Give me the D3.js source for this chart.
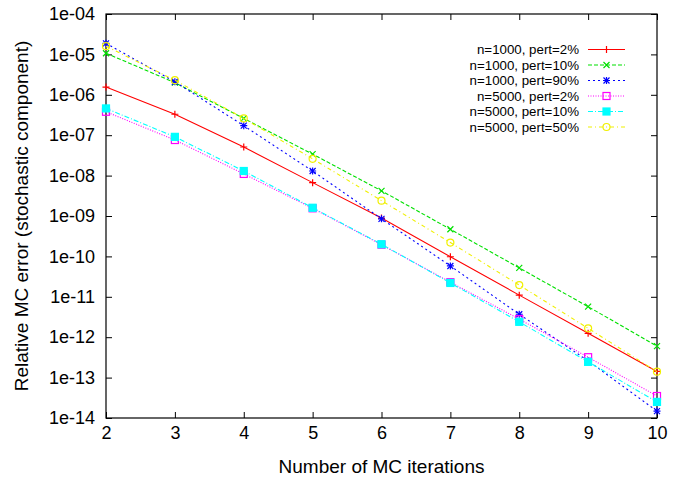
<!DOCTYPE html>
<html>
<head>
<meta charset="utf-8">
<script src="https://cdn.jsdelivr.net/npm/d3@7"></script>
<style>
  body { margin: 0; background: #fff; }
  text { font-family: "Liberation Sans", Arial, sans-serif; }
</style>
</head>
<body>
<script>
// chart size
var w = 673, h = 477;
var margin = {top: 14, right: 16, bottom: 59, left: 106};

// data
var iterations = [2, 3, 4, 5, 6, 7, 8, 9, 10];
var seriesNames = [
    "n=1000, pert=2%",
    "n=1000, pert=10%",
    "n=1000, pert=90%",
    "n=5000, pert=2%",
    "n=5000, pert=10%",
    "n=5000, pert=50%"
];
var err1000p2  = [1.55e-6, 3.3e-7, 5.1e-8, 6.7e-9, 8.9e-10, 9.8e-11, 1.1e-11, 1.25e-12, 1.42e-13];
var err1000p10 = [1.07e-5, 2.0e-6, 2.6e-7, 3.4e-8, 4.2e-9, 4.7e-10, 5.2e-11, 5.7e-12, 6.0e-13];
var err1000p90 = [1.88e-5, 2.1e-6, 1.72e-7, 1.3e-8, 8.5e-10, 5.8e-11, 3.7e-12, 2.6e-13, 1.48e-14];
var err5000p2  = [3.8e-7, 7.6e-8, 1.1e-8, 1.55e-9, 1.95e-10, 2.3e-11, 2.8e-12, 3.2e-13, 3.5e-14];
var err5000p10 = [4.6e-7, 9.1e-8, 1.3e-8, 1.6e-9, 2.0e-10, 2.2e-11, 2.4e-12, 2.45e-13, 2.5e-14];
var err5000p50 = [1.6e-5, 2.3e-6, 2.6e-7, 2.6e-8, 2.4e-9, 2.2e-10, 1.95e-11, 1.66e-12, 1.4e-13];
var yTickValues = [1e-4, 1e-5, 1e-6, 1e-7, 1e-8, 1e-9, 1e-10, 1e-11, 1e-12, 1e-13, 1e-14];
var yTickLabels = ["1e-04", "1e-05", "1e-06", "1e-07", "1e-08", "1e-09", "1e-10", "1e-11", "1e-12", "1e-13", "1e-14"];

var allSeries = [err1000p2, err1000p10, err1000p90, err5000p2, err5000p10, err5000p50];

// gnuplot-ish styles
var colors = ["#ff0000", "#00e000", "#0000ff", "#ff00ff", "#00ffff", "#f0f000"];
var dashes = [null, "4,2", "2,3", "1,1.5", "5,2,1,2", "4,3,1,3"];
var markers = ["plus", "cross", "star", "box", "boxfill", "circle"];

var iw = w - margin.left - margin.right,
    ih = h - margin.top - margin.bottom;

var svg = d3.select("body").append("svg")
    .attr("width", w)
    .attr("height", h);

var g = svg.append("g")
    .attr("transform", "translate(" + margin.left + "," + margin.top + ")");

var x = d3.scaleLinear().domain([2, 10]).range([0, iw]);
var y = d3.scaleLog().domain([1e-14, 1e-4]).range([ih, 0]);

// axes with inward ticks, mirrored on top/right
var xAxis = g.append("g")
    .attr("transform", "translate(0," + ih + ")")
    .call(d3.axisBottom(x).tickValues(iterations).tickFormat(d3.format("d"))
        .tickSizeInner(-6).tickSizeOuter(0).tickPadding(8));
var xTop = g.append("g")
    .call(d3.axisTop(x).tickValues(iterations).tickFormat("")
        .tickSizeInner(-6).tickSizeOuter(0));
var yAxis = g.append("g")
    .call(d3.axisLeft(y).tickValues(yTickValues)
        .tickFormat(function(d, i){ return yTickLabels[i]; })
        .tickSizeInner(-6).tickSizeOuter(0).tickPadding(11));
var yRight = g.append("g")
    .attr("transform", "translate(" + iw + ",0)")
    .call(d3.axisRight(y).tickValues(yTickValues).tickFormat("")
        .tickSizeInner(-6).tickSizeOuter(0));

g.selectAll(".domain").remove();
g.selectAll(".tick line").attr("stroke", "#000");
g.selectAll(".tick text")
    .attr("fill", "#000")
    .style("font-size", "18px");

// frame
g.append("rect")
    .attr("width", iw)
    .attr("height", ih)
    .attr("fill", "none")
    .attr("stroke", "#000")
    .attr("stroke-width", 1.2);

// marker drawing
function drawMarker(sel, type, color){
    var s = 3.5;
    if (type == "plus" || type == "star") {
        sel.append("path").attr("d", "M" + (-s) + ",0H" + s + "M0," + (-s) + "V" + s)
            .attr("stroke", color).attr("stroke-width", 1.2).attr("fill", "none");
    }
    if (type == "cross" || type == "star") {
        var c = 3;
        sel.append("path").attr("d", "M" + (-c) + "," + (-c) + "L" + c + "," + c + "M" + (-c) + "," + c + "L" + c + "," + (-c))
            .attr("stroke", color).attr("stroke-width", 1.2).attr("fill", "none");
    }
    if (type == "box" || type == "boxfill") {
        sel.append("rect").attr("x", -s).attr("y", -s).attr("width", 2 * s).attr("height", 2 * s)
            .attr("stroke", color).attr("stroke-width", 1.2)
            .attr("fill", type == "boxfill" ? color : "none");
    }
    if (type == "circle") {
        sel.append("circle").attr("r", s)
            .attr("stroke", color).attr("stroke-width", 1.2).attr("fill", "none");
    }
}

var line = d3.line()
    .x(function(d, i){ return x(iterations[i]); })
    .y(function(d){ return y(d); });

// series lines and points
allSeries.forEach(function(vals, k){
    g.append("path")
        .datum(vals)
        .attr("class", "series")
        .attr("d", line)
        .attr("fill", "none")
        .attr("stroke", colors[k])
        .attr("stroke-width", 1.1)
        .attr("stroke-dasharray", dashes[k]);

    g.selectAll(".pt" + k)
        .data(vals)
        .enter()
        .append("g")
        .attr("class", "pt" + k)
        .attr("transform", function(d, i){
            return "translate(" + x(iterations[i]) + "," + y(d) + ")";
        })
        .each(function(){ drawMarker(d3.select(this), markers[k], colors[k]); });
});

// legend
var legend = svg.append("g").attr("class", "legend");
seriesNames.forEach(function(name, k){
    var ly = 49.5 + k * 15.5;
    legend.append("text")
        .attr("x", 579)
        .attr("y", ly + 4.5)
        .attr("text-anchor", "end")
        .style("font-size", "13.3px")
        .text(name);
    legend.append("line")
        .attr("x1", 588).attr("x2", 625)
        .attr("y1", ly).attr("y2", ly)
        .attr("stroke", colors[k])
        .attr("stroke-width", 1.1)
        .attr("stroke-dasharray", dashes[k]);
    var mk = legend.append("g").attr("transform", "translate(606.5," + ly + ")");
    drawMarker(mk, markers[k], colors[k]);
});

// axis titles
svg.append("text")
    .attr("x", margin.left + iw / 2)
    .attr("y", 473)
    .attr("text-anchor", "middle")
    .style("font-size", "19px")
    .text("Number of MC iterations");

svg.append("text")
    .attr("transform", "translate(28," + (margin.top + ih / 2) + ") rotate(-90)")
    .attr("text-anchor", "middle")
    .style("font-size", "19px")
    .text("Relative MC error (stochastic component)");
</script>
</body>
</html>
